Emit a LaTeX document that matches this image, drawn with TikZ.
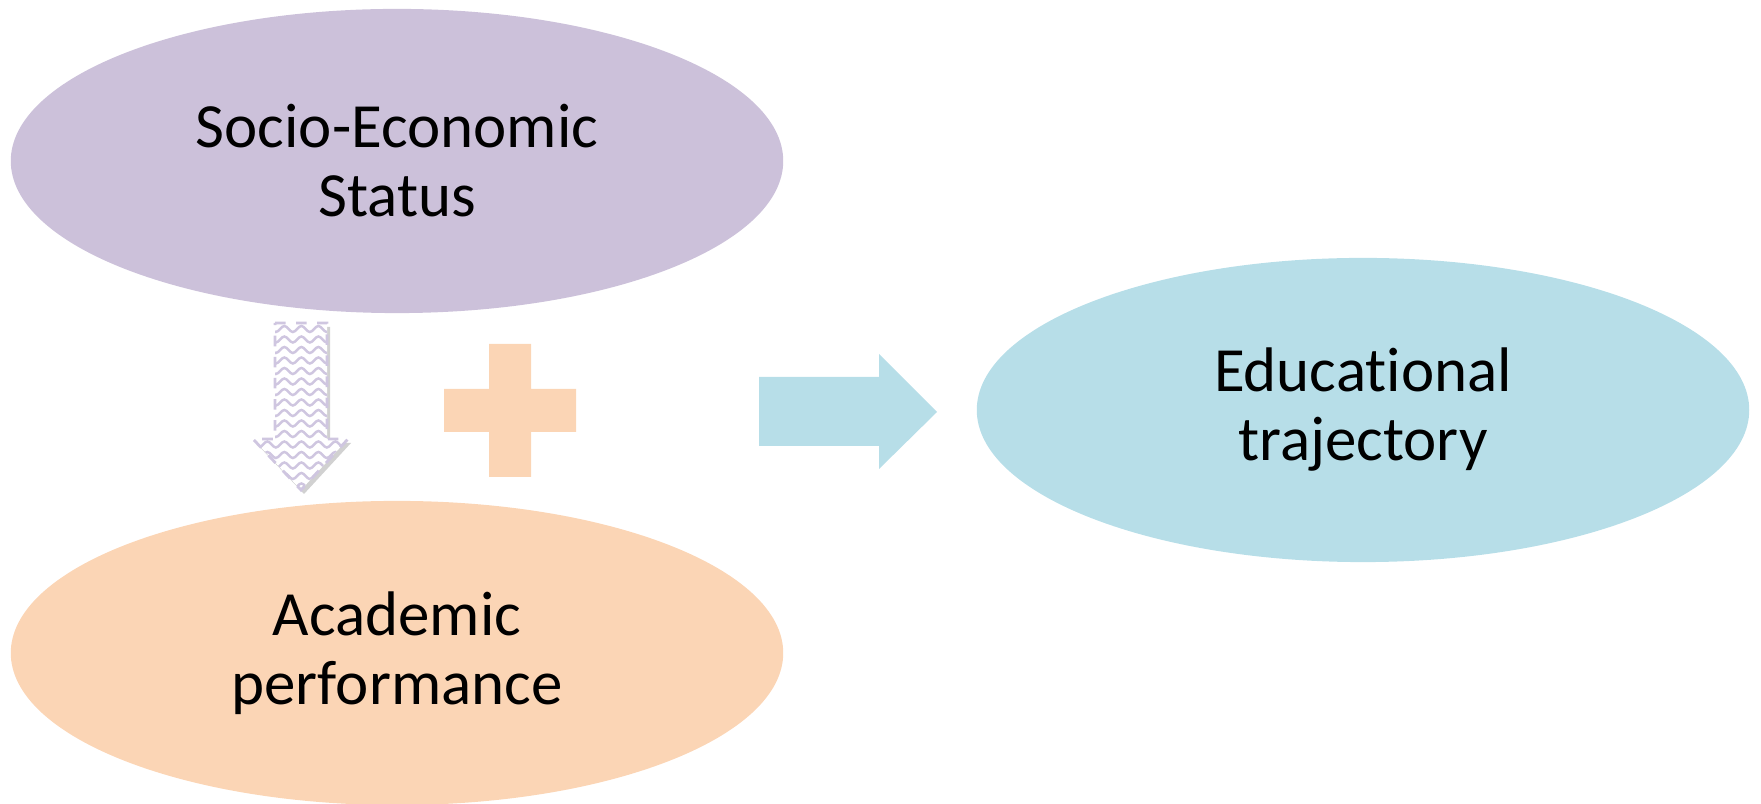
\documentclass[tikz,border=0pt]{standalone}
\usepackage{fontspec}
\setmainfont[Ligatures=NoCommon]{Carlito}
\usetikzlibrary{shapes.geometric,shadows,decorations.pathmorphing}
\definecolor{sesPurple}{HTML}{CCC1DA}
\definecolor{acaOrange}{HTML}{FBD5B5}
\definecolor{eduBlue}{HTML}{B7DEE8}
\definecolor{waveLine}{HTML}{CFC6E0}
\newcommand{\downArrowPath}{(275,323) -- (327,323) -- (327,439) -- (348,439) -- (301,490) -- (253,439) -- (275,439) -- cycle}

\begin{document}
\begin{tikzpicture}[x=0.01cm, y=-0.01cm,
  blob/.style={ellipse, inner sep=0pt, minimum width=7.72cm, minimum height=3.04cm, align=center, font=\fontsize{17.9}{19.6}\selectfont},
  wave/.style={waveLine, line width=0.7pt, decorate, decoration={snake, amplitude=0.03cm, segment length=0.17cm}}]
	\useasboundingbox (0,0) rectangle (1761,804);
	\node[blob, fill=sesPurple] (SES) at (397,161) {Socio-Economic\\Status};
	\node[blob, fill=acaOrange] (AP) at (397,653) {Academic\\performance};
	\node[blob, fill=eduBlue] (ET) at (1363,410) {Educational\\trajectory};
	% wavy down arrow
	\fill[white, drop shadow={shadow xshift=0.03cm, shadow yshift=-0.04cm, opacity=0.3, fill=black!60}] \downArrowPath;
	\begin{scope}
		\clip \downArrowPath;
		\foreach \y in {329,339.5,...,495}
			\draw[wave] (245,\y) -- (360,\y);
	\end{scope}
	\draw[waveLine, line width=0.8pt, dashed] \downArrowPath;
	% plus sign
	\fill[acaOrange] (489,344) -- (531,344) -- (531,389) -- (576,389) -- (576,432) -- (531,432) -- (531,477) -- (489,477) -- (489,432) -- (444,432) -- (444,389) -- (489,389) -- cycle;
	% right arrow
	\fill[eduBlue] (759,377) -- (879,377) -- (879,354) -- (937,412) -- (879,469) -- (879,446) -- (759,446) -- cycle;
\end{tikzpicture}
\end{document}
